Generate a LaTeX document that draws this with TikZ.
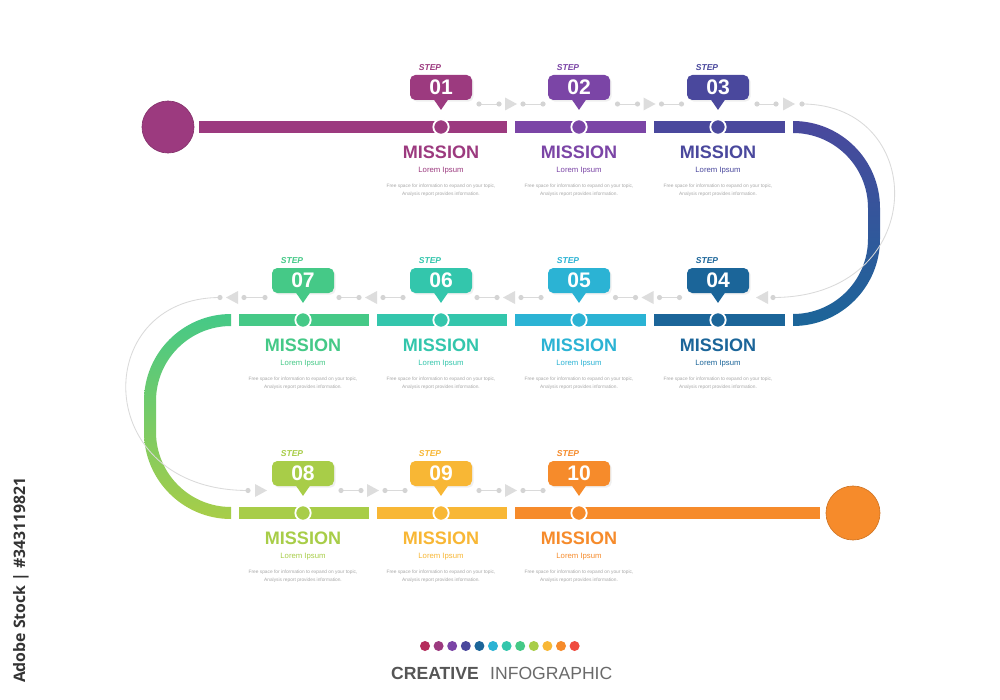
\documentclass[tikz,border=0pt]{standalone}
\usepackage{fontspec}
\setmainfont{Liberation Sans}
\newfontfamily\wmfont{Open Sans}
\usetikzlibrary{calc,shadows}
\definecolor{cA}{HTML}{9C3A7F}
\definecolor{cB}{HTML}{7B45A6}
\definecolor{cC}{HTML}{4A489D}
\definecolor{cD}{HTML}{1B6599}
\definecolor{cE}{HTML}{2BB3D4}
\definecolor{cF}{HTML}{33C6AC}
\definecolor{cG}{HTML}{45C987}
\definecolor{cH}{HTML}{A8CD48}
\definecolor{cI}{HTML}{F8B735}
\definecolor{cJ}{HTML}{F68B2B}
\definecolor{cK}{HTML}{B52D5C}
\definecolor{cL}{HTML}{EF4B3F}
\definecolor{lightg}{HTML}{DADADA}
\definecolor{dotc}{HTML}{D4D4D4}
\definecolor{tric}{HTML}{DDDDDD}
\definecolor{descgray}{HTML}{A8A8A8}
\definecolor{titleA}{HTML}{555555}
\definecolor{titleB}{HTML}{6A6A6A}
\tikzset{
  bubble/.style={rectangle, rounded corners=1.6mm, minimum width=18.6mm, minimum height=7.5mm, inner sep=0pt, text=white, font=\bfseries\fontsize{18}{18}\selectfont, drop shadow={opacity=0.12, shadow xshift=0.5mm, shadow yshift=-0.5mm}},
  marker/.style={circle, draw=white, line width=0.55mm, minimum size=4.6mm, inner sep=0pt},
  mission/.style={font=\bfseries\fontsize{15.4}{16}\selectfont},
  lorem/.style={font=\fontsize{6.6}{8}\selectfont},
  desc/.style={font=\fontsize{4.1}{6.8}\selectfont, text=descgray, align=center},
  steplbl/.style={font=\bfseries\itshape\fontsize{7.3}{8}\selectfont},
  thinline/.style={draw=lightg, line width=0.25mm},
  gdot/.style={fill=dotc},
  gtri/.style={fill=tric},
}
\newcommand\StepItem[4]{%
  \node[bubble, fill=#4] (b#1) at (#2,#3-39.5) {#1};
  \fill[#4] ([xshift=-2.2mm, yshift=0.3mm]b#1.south) -- ([yshift=-2.9mm]b#1.south) -- ([xshift=2.2mm, yshift=0.3mm]b#1.south) -- cycle;
  \node[marker, fill=#4] (m#1) at (#2,#3) {};
  \node[steplbl, text=#4] (s#1) at (#2-11,#3-59) {STEP};
  \node[mission, text=#4] (t#1) at (#2,#3+25) {MISSION};
  \node[lorem, text=#4] (l#1) at (#2,#3+44) {Lorem Ipsum};
  \node[desc] (d#1) at (#2,#3+63) {Free space for information to expand on your topic,\\Analysis report provides information.};
}
\newcommand\Flow[3]{%
  \begin{scope}[shift={(#1,#2)}, xscale=#3]
    \draw[thinline] (-31,0) -- (-11,0) (13,0) -- (33,0);
    \fill[gdot] (-31,0) circle[radius=2.6] (-11,0) circle[radius=2.6] (13,0) circle[radius=2.6] (33,0) circle[radius=2.6];
    \fill[gtri] (-5,-6.5) -- (7,0) -- (-5,6.5) -- cycle;
  \end{scope}}
\begin{document}
\begin{tikzpicture}[x=0.3mm, y=-0.3mm]
\fill[white] (0,0) rectangle (1000,700);
\useasboundingbox (0,0) rectangle (1000,700);

% bars row 1
\fill[cA] (199,121) rectangle (507,133);
\fill[cB] (515,121) rectangle (646,133);
\fill[cC] (654,121) rectangle (785,133);
% right curve
\shade[top color=cC, bottom color=cD] (793,121) arc[start angle=-90,end angle=0,radius=87] -- (880,239) arc[start angle=0,end angle=90,radius=87] -- (793,314) arc[start angle=90,end angle=0,radius=75] -- (868,208) arc[start angle=0,end angle=-90,radius=75] -- cycle;
% bars row 2
\fill[cD] (654,314) rectangle (785,326);
\fill[cE] (515,314) rectangle (646,326);
\fill[cF] (377,314) rectangle (507,326);
\fill[cG] (239,314) rectangle (369,326);
% left curve
\shade[top color=cG, bottom color=cH] (231,314) arc[start angle=-90,end angle=-180,radius=87] -- (144,432) arc[start angle=180,end angle=90,radius=87] -- (231,507) arc[start angle=90,end angle=180,radius=75] -- (156,401) arc[start angle=180,end angle=270,radius=75] -- cycle;
% bars row 3
\fill[cH] (239,507) rectangle (369,519);
\fill[cI] (377,507) rectangle (507,519);
\fill[cJ] (515,507) rectangle (820,519);

% start / end circles
\node[circle, fill=cA, draw=cA!85!black, line width=0.2mm, minimum size=15.6mm, inner sep=0pt] (start) at (168,127) {};
\node[circle, fill=cJ, draw=cJ!85!black, line width=0.2mm, minimum size=16.2mm, inner sep=0pt] (end) at (853,513) {};

% gray flow connectors
\Flow{510}{104}{1}
\Flow{648.5}{104}{1}
\draw[thinline] (757,104) -- (776,104);
\fill[gdot] (757,104) circle[radius=2.6] (776,104) circle[radius=2.6];
\fill[gtri] (783,97.5) -- (795,104) -- (783,110.5) -- cycle;
\coordinate (rt) at (802,104);
\coordinate (rb) at (773,297.5);
\draw[thinline] (rt) .. controls (930,104) and (930,297.5) .. (rb);
\fill[gdot] (rt) circle[radius=2.6] (rb) circle[radius=2.6];
\fill[gtri] (768,291) -- (756,297.5) -- (768,304) -- cycle;
\Flow{648.5}{297.5}{-1}
\Flow{510}{297.5}{-1}
\Flow{372}{297.5}{-1}
\coordinate (lt) at (220,297.5);
\coordinate (lb) at (248,490.5);
\draw[thinline] (lt) .. controls (90,297.5) and (90,490.5) .. (lb);
\fill[gdot] (lt) circle[radius=2.6] (lb) circle[radius=2.6];
\fill[gtri] (238,291) -- (226,297.5) -- (238,304) -- cycle;
\draw[thinline] (244,297.5) -- (265,297.5);
\fill[gdot] (244,297.5) circle[radius=2.6] (265,297.5) circle[radius=2.6];
\fill[gtri] (255,484) -- (267,490.5) -- (255,497) -- cycle;
\Flow{372}{490.5}{1}
\Flow{510}{490.5}{1}

% steps
\StepItem{01}{441}{127}{cA}
\StepItem{02}{579}{127}{cB}
\StepItem{03}{718}{127}{cC}
\StepItem{04}{718}{320}{cD}
\StepItem{05}{579}{320}{cE}
\StepItem{06}{441}{320}{cF}
\StepItem{07}{303}{320}{cG}
\StepItem{08}{303}{513}{cH}
\StepItem{09}{441}{513}{cI}
\StepItem{10}{579}{513}{cJ}

% palette dots
\foreach \c [count=\i from 0] in {cK,cA,cB,cC,cD,cE,cF,cG,cH,cI,cJ,cL}
  \fill[\c] (425+\i*13.6,646) circle[radius=5];

% title
\node[anchor=base east, inner sep=0pt, font=\bfseries\fontsize{15}{15}\selectfont, text=titleA] (cre) at (479,679) {CREATIVE};
\node[anchor=base west, inner sep=0pt, font=\fontsize{15}{15}\selectfont, text=titleB] (info) at (490,679) {INFOGRAPHIC};

% watermark
\node[rotate=90, inner sep=0pt, font=\wmfont\bfseries\fontsize{13.5}{14}\selectfont, text=black!80] (wm) at (21,580) {Adobe Stock | \#343119821};
\end{tikzpicture}
\end{document}
